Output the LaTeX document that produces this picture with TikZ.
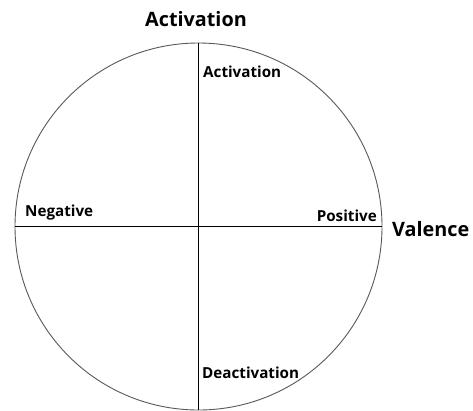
\documentclass[tikz,border=0pt]{standalone}
\usepackage{fontspec}
\setmainfont{Open Sans}
\usetikzlibrary{positioning}

\begin{document}
\begin{tikzpicture}[
        x=1pt, y=-1pt,
        wheel/.style={circle, draw=black!65, line width=0.9pt, minimum size=367pt, inner sep=0pt},
        axis/.style={draw=black, line width=0.8pt},
        pole/.style={font=\bfseries\fontsize{15.2}{17}\selectfont, inner sep=0pt},
        dim/.style={font=\bfseries\fontsize{19.8}{22}\selectfont, inner sep=0pt}
    ]
    \useasboundingbox[fill=white] (0,0) rectangle (473,410);

    \node (circ) [wheel] at (198.5,226.5) {};

    % the two axes
    \draw [axis] (circ.west) -- (circ.east);
    \draw [axis] (circ.north) -- (circ.south);

    % axis titles
    \node (arousal) [dim] at (196,19) {Activation};
    \node (valence) [dim, anchor=west] at (392,229) {Valence};

    % poles
    \node (high) [pole, anchor=west] at (203,72) {Activation};
    \node (low) [pole, anchor=west] at (202,373) {Deactivation};
    \node (neg) [pole, anchor=west] at (25,213) {Negative};
    \node (pos) [pole, anchor=east] at (377,216) {Positive};

\end{tikzpicture}
\end{document}
